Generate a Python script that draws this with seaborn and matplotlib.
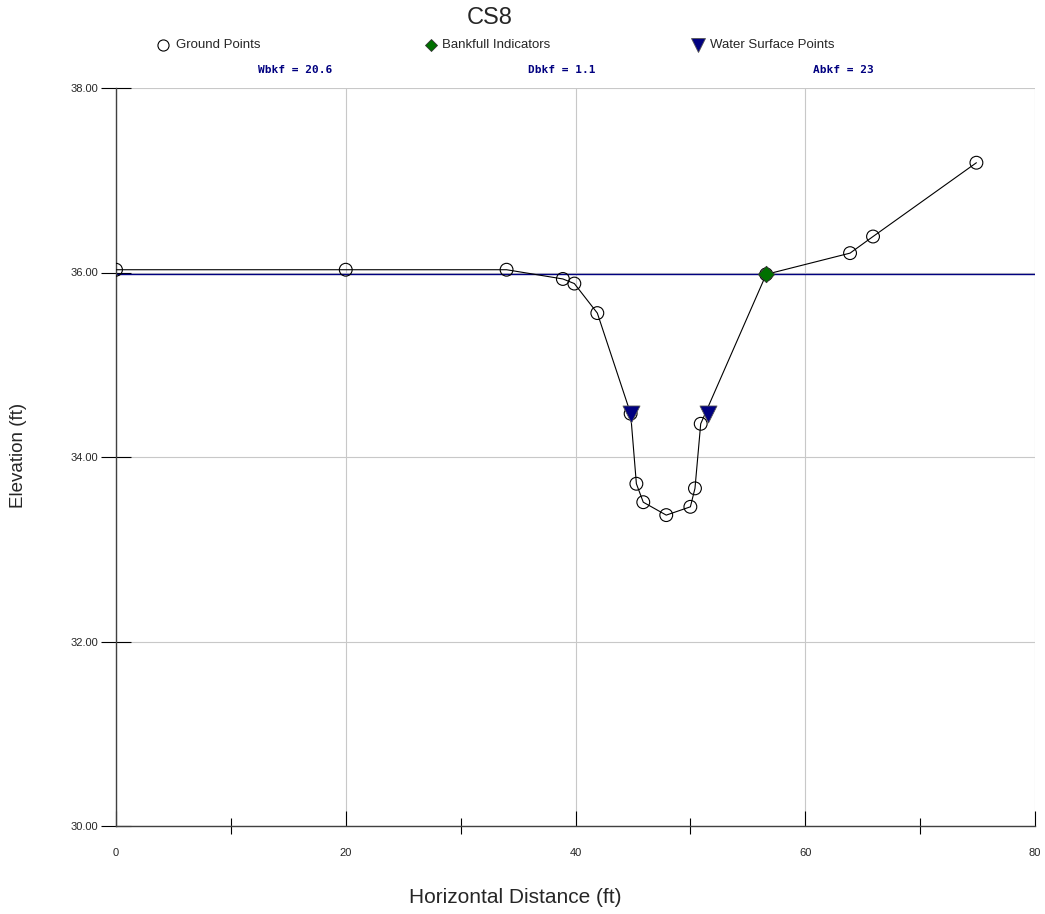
import matplotlib
matplotlib.use("Agg")
import matplotlib.pyplot as plt
import seaborn as sns
import pandas as pd

# ---- data ----
ground_x = [0.0, 20.0, 34.0, 38.9, 39.9, 41.9, 44.8, 45.3, 45.9, 47.9, 50.0, 50.4, 50.9, 56.6, 63.9, 65.9, 74.9]
ground_y = [36.03, 36.03, 36.03, 35.93, 35.88, 35.56, 34.47, 33.71, 33.51, 33.37, 33.46, 33.66, 34.36, 35.98, 36.21, 36.39, 37.19]
bankfull_x = [56.6]
bankfull_y = [35.98]
water_x = [44.8, 51.5]
water_y = [34.47, 34.47]
bankfull_elev = 35.98
stats_labels = ["Wbkf = 20.6", "Dbkf = 1.1", "Abkf = 23"]
legend_labels = ["Ground Points", "Bankfull Indicators", "Water Surface Points"]
x_ticks = [0, 20, 40, 60, 80]
x_minor = [10, 30, 50, 70]
y_ticks = [30, 32, 34, 36, 38]

sns.set_style("white")
plt.rcParams['font.family'] = ['Liberation Sans', 'DejaVu Sans']

fig = plt.figure(figsize=(10.45, 9.14), dpi=100)
ax = fig.add_axes([116/1045, 1-826/914, (1035-116)/1045, (826-88)/914])

gdf = pd.DataFrame({"x": ground_x, "y": ground_y})
bdf = pd.DataFrame({"x": bankfull_x, "y": bankfull_y})
wdf = pd.DataFrame({"x": water_x, "y": water_y})

ax.axhline(bankfull_elev, color="#000080", lw=1.0, zorder=2)
sns.lineplot(data=gdf, x="x", y="y", sort=False, color="black", lw=0.8, ax=ax, zorder=3)
sns.scatterplot(data=gdf, x="x", y="y", marker="o", s=85, facecolor="none",
                edgecolor="black", linewidth=0.8, ax=ax, zorder=4)
sns.scatterplot(data=wdf, x="x", y="y", marker="v", s=150, color="#000080",
                edgecolor="#555555", linewidth=0.6, ax=ax, zorder=5)
sns.scatterplot(data=bdf, x="x", y="y", marker="D", s=70, color="#007000",
                edgecolor="#333333", linewidth=0.6, ax=ax, zorder=5)

ax.set_xlim(0, 80)
ax.set_ylim(30, 38)
ax.set_xticks(x_ticks)
ax.set_xticks(x_minor, minor=True)
ax.set_yticks(y_ticks)
ax.set_xticklabels([str(t) for t in x_ticks], fontsize=8)
ax.set_yticklabels([f"{t:.2f}" for t in y_ticks], fontsize=8)
ax.grid(True, which="major", color="#c8c8c8", lw=0.8)
for s in ["top", "right"]:
    ax.spines[s].set_visible(False)
for s in ["left", "bottom"]:
    ax.spines[s].set_color("#404040")
    ax.spines[s].set_linewidth(1.0)
ax.tick_params(axis="x", which="major", direction="in", length=11, width=0.8, color="black",
               pad=16, bottom=True)
ax.tick_params(axis="x", which="minor", direction="inout", length=12, width=0.8, color="black", bottom=True)
ax.tick_params(axis="y", which="major", direction="inout", length=22, width=0.8, color="black",
               pad=2, left=True)
ax.set_xlabel("Horizontal Distance (ft)", fontsize=15)
ax.set_ylabel("Elevation (ft)", fontsize=13.5)
ax.xaxis.set_label_coords((515-116)/919, -(888-826)/738)
ax.yaxis.set_label_coords((27-116)/919, (826-455)/738)

fig.text(490/1045, 1-18/914, "CS8", ha="center", va="center", fontsize=17)

# legend row
leg_y = 1 - 45/914
fig.lines.append(plt.Line2D([163/1045], [leg_y], marker="o", ms=8, mfc="none", mec="black",
                            mew=0.8, transform=fig.transFigure, ls=""))
fig.lines.append(plt.Line2D([431/1045], [leg_y], marker="D", ms=6.5, mfc="#007000", mec="#333333",
                            mew=0.6, transform=fig.transFigure, ls=""))
fig.lines.append(plt.Line2D([698/1045], [leg_y], marker="v", ms=10, mfc="#000080", mec="#555555",
                            mew=0.6, transform=fig.transFigure, ls=""))
for xpos, lab in zip([176, 442, 710], legend_labels):
    fig.text(xpos/1045, leg_y, lab, ha="left", va="center", fontsize=9.5)

for xpos, lab in zip([295, 562, 843], stats_labels):
    fig.text(xpos/1045, 1-70/914, lab, ha="center", va="center", fontsize=8,
             color="#000080", fontweight="bold", family=['DejaVu Sans Mono'])

fig.savefig("out.png", dpi=100)
